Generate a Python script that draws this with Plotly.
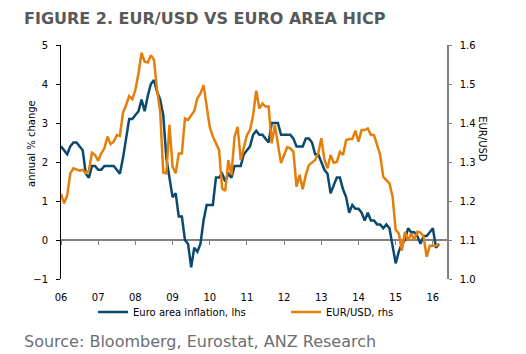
import plotly.graph_objects as go

# Monthly data, Jan 2006 - Mar 2016
start_year = 2006
hicp = [
    2.4, 2.3, 2.2, 2.4, 2.5, 2.5, 2.4, 2.3, 1.7, 1.6, 1.9, 1.9,   # 2006
    1.8, 1.8, 1.9, 1.9, 1.9, 1.9, 1.8, 1.7, 2.1, 2.6, 3.1, 3.1,   # 2007
    3.2, 3.3, 3.6, 3.3, 3.7, 4.0, 4.1, 3.8, 3.6, 3.2, 2.1, 1.6,   # 2008
    1.1, 1.2, 0.6, 0.6, 0.0, -0.1, -0.7, -0.2, -0.3, -0.1, 0.5, 0.9,  # 2009
    0.9, 0.9, 1.6, 1.6, 1.7, 1.5, 1.7, 1.6, 1.9, 1.9, 1.9, 2.2,   # 2010
    2.3, 2.4, 2.7, 2.8, 2.7, 2.7, 2.6, 2.5, 3.0, 3.0, 3.0, 2.7,   # 2011
    2.7, 2.7, 2.7, 2.6, 2.4, 2.4, 2.4, 2.6, 2.6, 2.5, 2.2, 2.2,   # 2012
    2.0, 1.8, 1.7, 1.2, 1.4, 1.6, 1.6, 1.3, 1.1, 0.7, 0.9, 0.8,   # 2013
    0.8, 0.7, 0.5, 0.7, 0.5, 0.5, 0.4, 0.4, 0.3, 0.4, 0.3, -0.2,  # 2014
    -0.6, -0.3, -0.1, 0.0, 0.3, 0.2, 0.2, 0.1, -0.1, 0.1, 0.1, 0.2,  # 2015
    0.3, -0.2, -0.1,                                              # 2016
]
eurusd = [
    1.218, 1.194, 1.215, 1.271, 1.284, 1.280, 1.278, 1.280, 1.271, 1.278, 1.324, 1.318,  # 2006
    1.303, 1.322, 1.335, 1.365, 1.346, 1.352, 1.369, 1.367, 1.426, 1.446, 1.469, 1.461,  # 2007
    1.485, 1.527, 1.580, 1.557, 1.555, 1.574, 1.562, 1.485, 1.429, 1.273, 1.271, 1.395,  # 2008
    1.288, 1.271, 1.322, 1.322, 1.412, 1.408, 1.420, 1.431, 1.463, 1.476, 1.497, 1.442,  # 2009
    1.390, 1.365, 1.350, 1.331, 1.232, 1.226, 1.305, 1.267, 1.365, 1.390, 1.305, 1.339,  # 2010
    1.369, 1.382, 1.420, 1.483, 1.437, 1.450, 1.442, 1.442, 1.348, 1.395, 1.348, 1.297,  # 2011
    1.318, 1.338, 1.335, 1.326, 1.237, 1.267, 1.230, 1.267, 1.292, 1.298, 1.305, 1.322,  # 2012
    1.361, 1.306, 1.284, 1.318, 1.298, 1.300, 1.326, 1.318, 1.356, 1.359, 1.359, 1.380,  # 2013
    1.352, 1.382, 1.382, 1.386, 1.369, 1.369, 1.340, 1.318, 1.262, 1.253, 1.245, 1.211,  # 2014
    1.126, 1.117, 1.073, 1.121, 1.098, 1.117, 1.100, 1.121, 1.119, 1.109, 1.057, 1.085,  # 2015
    1.085, 1.085, 1.090,                                                                 # 2016
]
year_ticks = list(range(2006, 2017))
year_labels = ["06", "07", "08", "09", "10", "11", "12", "13", "14", "15", "16"]
left_ticks = [-1, 0, 1, 2, 3, 4, 5]
right_ticks = [1.0, 1.1, 1.2, 1.3, 1.4, 1.5, 1.6]

x = [start_year + i / 12 for i in range(len(hicp))]

BLUE = "#0b4a6e"
ORANGE = "#e47f0b"
FONT = "DejaVu Sans"
XR = [2006, 2016.38]

fig = go.Figure()
fig.add_trace(go.Scatter(x=x, y=hicp, mode="lines", name="Euro area inflation, lhs",
                         line=dict(color=BLUE, width=2.5), xaxis="x", yaxis="y"))
fig.add_trace(go.Scatter(x=x, y=eurusd, mode="lines", name="EUR/USD, rhs",
                         line=dict(color=ORANGE, width=2.5), xaxis="x", yaxis="y2"))
# invisible helper trace so the zero-line axis with year ticks is drawn
fig.add_trace(go.Scatter(x=x, y=hicp, mode="lines", line=dict(width=0, color="rgba(0,0,0,0)"),
                         showlegend=False, hoverinfo="skip", xaxis="x2", yaxis="y"))

fig.update_layout(
    width=526, height=354,
    margin=dict(l=61, r=79, t=45, b=75),
    paper_bgcolor="white", plot_bgcolor="white",
    font=dict(family=FONT, size=10, color="#000000"),
    showlegend=True,
    legend=dict(orientation="h", x=0.083, y=-0.141, xanchor="left", yanchor="middle",
                font=dict(family=FONT, size=10, color="#000000"),
                entrywidth=148, entrywidthmode="pixels", bgcolor="rgba(0,0,0,0)",
                itemwidth=30, tracegroupgap=0),
    xaxis=dict(range=XR, tickmode="array", tickvals=year_ticks, ticktext=year_labels,
               showline=False, showgrid=False, zeroline=False,
               ticks="outside", ticklen=9, tickcolor="rgba(0,0,0,0)",
               tickfont=dict(family=FONT, size=10, color="#000000")),
    xaxis2=dict(range=XR, overlaying="x", anchor="free", position=1/6,
                tickmode="array", tickvals=year_ticks, showticklabels=False,
                showline=True, linecolor="#808080", linewidth=1.5,
                ticks="outside", ticklen=4, tickcolor="#808080", tickwidth=1,
                showgrid=False, zeroline=False, layer="below traces"),
    yaxis=dict(range=[-1, 5], tickmode="array", tickvals=left_ticks,
               showline=True, linecolor="#000000", linewidth=1,
               ticks="outside", ticklen=4, tickcolor="#000000",
               ticklabelstandoff=6,
               showgrid=False, zeroline=False,
               tickfont=dict(family=FONT, size=10, color="#000000")),
    yaxis2=dict(range=[1.0, 1.6], overlaying="y", side="right", anchor="x",
                tickmode="array", tickvals=right_ticks, ticktext=[f"{v:.1f}" for v in right_ticks],
                showline=True, linecolor="#808080", linewidth=1.5,
                ticks="outside", ticklen=3, tickcolor="#808080",
                ticklabelstandoff=6,
                showgrid=False, zeroline=False,
                tickfont=dict(family=FONT, size=10, color="#000000")),
    annotations=[
        dict(text="<b>FIGURE 2. EUR/USD VS EURO AREA HICP</b>", xref="paper", yref="paper",
             x=-0.101, y=1.115, xanchor="left", yanchor="middle", showarrow=False,
             font=dict(family=FONT, size=16, color="#58595b")),
        dict(text="annual % change", xref="paper", yref="paper", x=-0.078, y=0.581,
             xanchor="center", yanchor="middle", textangle=-90, showarrow=False,
             font=dict(family=FONT, size=10, color="#000000")),
        dict(text="EUR/USD", xref="paper", yref="paper", x=1.093, y=0.598,
             xanchor="center", yanchor="middle", textangle=90, showarrow=False,
             font=dict(family=FONT, size=10, color="#000000")),
        dict(text="Source: Bloomberg, Eurostat, ANZ Research", xref="paper", yref="paper",
             x=-0.101, y=-0.269, xanchor="left", yanchor="middle", showarrow=False,
             font=dict(family=FONT, size=16, color="#6d6e71")),
    ],
)

fig.write_html("out.html")
